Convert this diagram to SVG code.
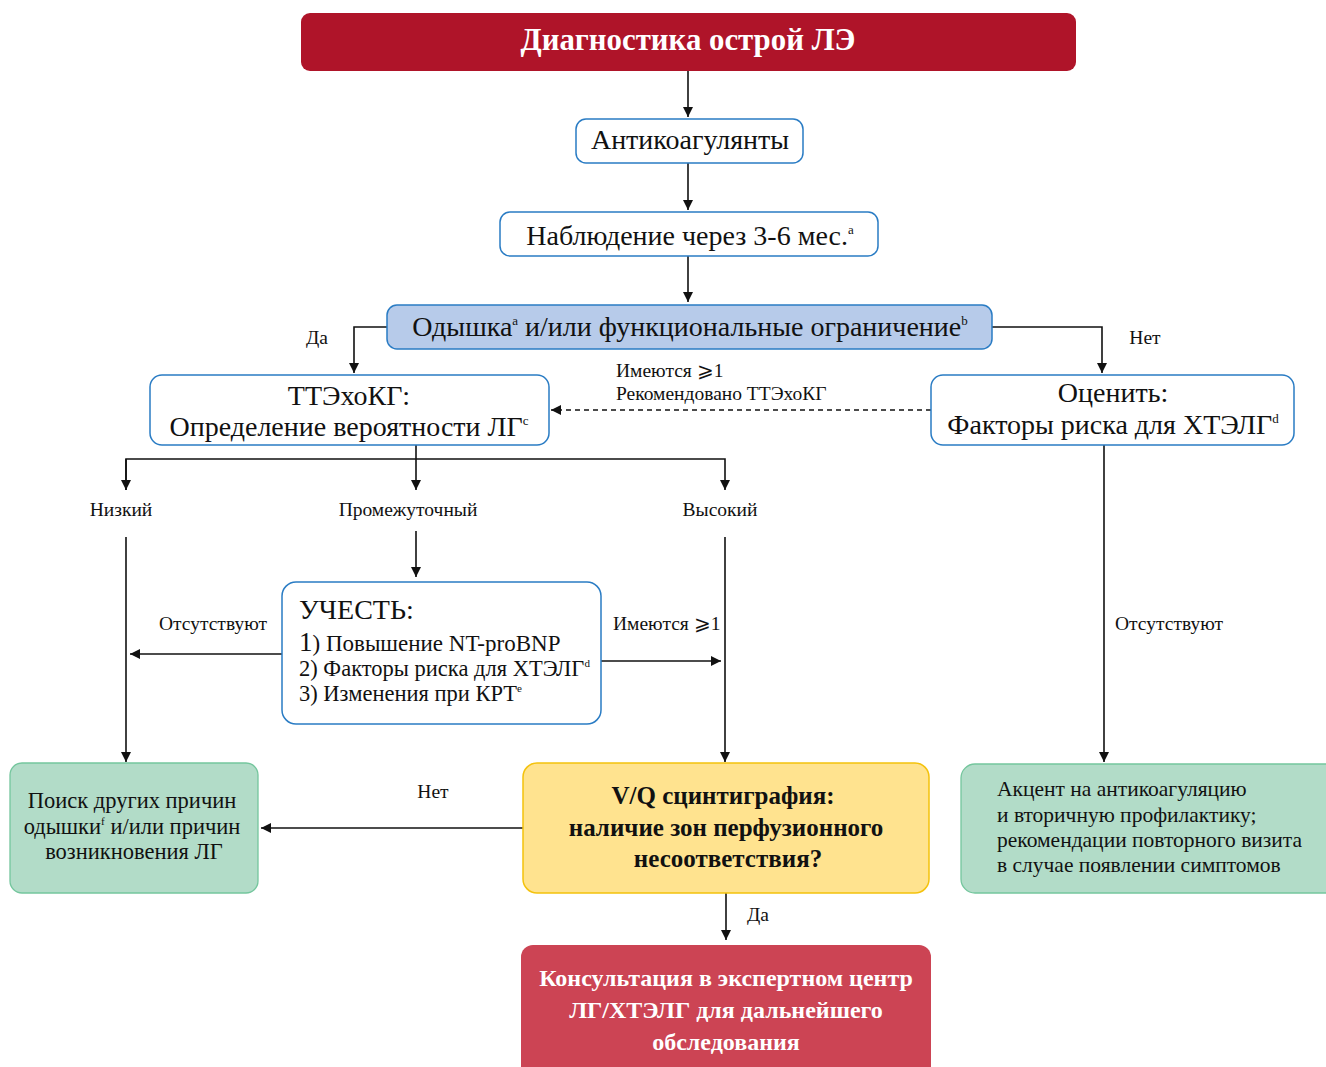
<svg xmlns="http://www.w3.org/2000/svg" width="1326" height="1067" viewBox="0 0 1326 1067">
<style>
text{font-family:"Liberation Serif","Times New Roman",serif;fill:#111}
.b{fill:#fff;stroke:#2a7cc4;stroke-width:1.5}
.t{font-size:28px;text-anchor:middle}
.l{font-size:19.5px}
.c{fill:none;stroke:#111;stroke-width:1.6}
.w{fill:#fff;font-weight:bold;text-anchor:middle}
.g{fill:#b2dcc8;stroke:#74c69d;stroke-width:1.3}
</style>
<defs>
<marker id="a" viewBox="0 0 10 10" refX="10" refY="5" markerWidth="10" markerHeight="10" markerUnits="userSpaceOnUse" orient="auto">
<path d="M0,0 L10,5 L0,10 Z" fill="#111"/>
</marker>
</defs>
<g id="connectors">
<path class="c" d="M688,71 V117" marker-end="url(#a)"/>
<path class="c" d="M688,163 V210" marker-end="url(#a)"/>
<path class="c" d="M688,256 V302" marker-end="url(#a)"/>
<path class="c" d="M387,327 H354 V373" marker-end="url(#a)"/>
<path class="c" d="M992,327 H1102 V373" marker-end="url(#a)"/>
<path class="c" d="M931,410 H551" stroke-dasharray="5,4" marker-end="url(#a)"/>
<path class="c" d="M416,445 V490"  marker-end="url(#a)"/>
<path class="c" d="M126,490 V459 H725 V490" marker-end="url(#a)"/>
<path class="c" d="M126,459 V490" marker-end="url(#a)"/>
<path class="c" d="M126,537 V762" marker-end="url(#a)"/>
<path class="c" d="M416,531 V577" marker-end="url(#a)"/>
<path class="c" d="M725,537 V762" marker-end="url(#a)"/>
<path class="c" d="M282,654 H130" marker-end="url(#a)"/>
<path class="c" d="M601,661 H721" marker-end="url(#a)"/>
<path class="c" d="M1104,445 V762" marker-end="url(#a)"/>
<path class="c" d="M523,828 H261" marker-end="url(#a)"/>
<path class="c" d="M726,893 V940" marker-end="url(#a)"/>
<text class="l" x="317" y="344" text-anchor="middle">Да</text>
<text class="l" x="1145" y="344" text-anchor="middle">Нет</text>
<text class="l" x="616" y="377">Имеются ⩾1</text>
<text class="l" x="616" y="400">Рекомендовано ТТЭхоКГ</text>
<text class="l" x="121" y="516" text-anchor="middle">Низкий</text>
<text class="l" x="408" y="516" text-anchor="middle">Промежуточный</text>
<text class="l" x="720" y="516" text-anchor="middle">Высокий</text>
<text class="l" x="213" y="630" text-anchor="middle">Отсутствуют</text>
<text class="l" x="613" y="630">Имеются ⩾1</text>
<text class="l" x="1115" y="630">Отсутствуют</text>
<text class="l" x="433" y="798" text-anchor="middle">Нет</text>
<text class="l" x="758" y="921" text-anchor="middle">Да</text>
</g>
<g id="title">
<rect x="301" y="13" width="775" height="58" rx="9" fill="#af1429"/>
<text class="w" x="688" y="50" font-size="32" textLength="335" lengthAdjust="spacingAndGlyphs">Диагностика острой ЛЭ</text>
</g>
<g id="anticoag">
<rect class="b" x="576" y="119" width="227" height="44" rx="10"/>
<text class="t" x="690" y="149">Антикоагулянты</text>
</g>
<g id="observe">
<rect class="b" x="500" y="212" width="378" height="44" rx="10"/>
<text class="t" x="690" y="245">Наблюдение через 3-6 мес.<tspan font-size="13" dy="-11">a</tspan></text>
</g>
<g id="dyspnea">
<rect x="387" y="305" width="605" height="44" rx="10" fill="#b7cbea" stroke="#2a7cc4" stroke-width="1.5"/>
<text class="t" x="690" y="336">Одышка<tspan font-size="13" dy="-11">a</tspan><tspan dy="11"> и/или функциональные ограничение</tspan><tspan font-size="13" dy="-11">b</tspan></text>
</g>
<g id="echo">
<rect class="b" x="150" y="375" width="399" height="70" rx="12"/>
<text class="t" x="349" y="405">ТТЭхоКГ:</text>
<text class="t" x="349" y="436" font-size="27.5">Определение вероятности ЛГ<tspan font-size="13" dy="-11">c</tspan></text>
</g>
<g id="assess">
<rect class="b" x="931" y="375" width="363" height="70" rx="12"/>
<text class="t" x="1113" y="402">Оценить:</text>
<text class="t" x="1113" y="434">Факторы риска для ХТЭЛГ<tspan font-size="13" dy="-11">d</tspan></text>
</g>
<g id="consider">
<rect class="b" x="282" y="582" width="319" height="142" rx="14"/>
<text x="299" y="619" font-size="28">УЧЕСТЬ:</text>
<text x="299" y="651" font-size="23"><tspan font-size="27">1</tspan>) Повышение NT-proBNP</text>
<text x="299" y="676" font-size="22.5">2) Факторы риска для ХТЭЛГ<tspan font-size="11" dy="-9">d</tspan></text>
<text x="299" y="701" font-size="22.5">3) Изменения при КРТ<tspan font-size="11" dy="-9">e</tspan></text>
</g>
<g id="other">
<rect class="g" x="10" y="763" width="248" height="130" rx="12"/>
<text x="132" y="808" font-size="22.5" text-anchor="middle">Поиск других причин</text>
<text x="132" y="834" font-size="22.5" text-anchor="middle">одышки<tspan font-size="11" dy="-9">f</tspan><tspan dy="9"> и/или причин</tspan></text>
<text x="134" y="859" font-size="22.5" text-anchor="middle">возникновения ЛГ</text>
</g>
<g id="vq">
<rect x="523" y="763" width="406" height="130" rx="14" fill="#ffe38f" stroke="#f4c20d" stroke-width="1.5"/>
<text x="723" y="804" font-size="25" font-weight="bold" text-anchor="middle">V/Q сцинтиграфия:</text>
<text x="726" y="836" font-size="25" font-weight="bold" text-anchor="middle">наличие зон перфузионного</text>
<text x="728" y="867" font-size="25" font-weight="bold" text-anchor="middle">несоответствия?</text>
</g>
<g id="focus">
<rect class="g" x="961" y="764" width="380" height="129" rx="14"/>
<text x="997" y="796" font-size="21.5">Акцент на антикоагуляцию</text>
<text x="997" y="822" font-size="21.5">и вторичную профилактику;</text>
<text x="997" y="847" font-size="21.5">рекомендации повторного визита</text>
<text x="997" y="872" font-size="21.5">в случае появлении симптомов</text>
</g>
<g id="expert">
<rect x="521" y="945" width="410" height="140" rx="12" fill="#cc4454"/>
<text class="w" x="726" y="986" font-size="24">Консультация в экспертном центр</text>
<text class="w" x="726" y="1018" font-size="24">ЛГ/ХТЭЛГ для дальнейшего</text>
<text class="w" x="726" y="1050" font-size="24">обследования</text>
</g>
</svg>
